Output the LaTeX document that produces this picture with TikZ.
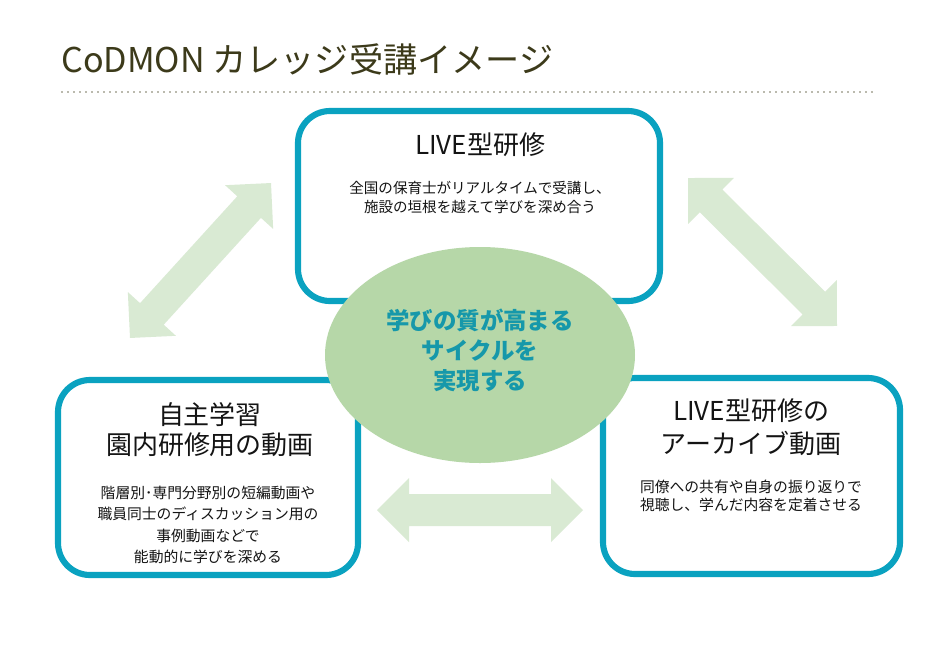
\documentclass[tikz,border=0pt]{standalone}
\usepackage{fontspec}
\setmainfont{Noto Sans CJK JP}
\begin{document}
\begin{tikzpicture}[x=0.75pt,y=-0.75pt,
  boxframe/.style={draw=boxteal,line width=4.6pt,fill=white,rounded corners=24pt},
  arrowfill/.style={fill=arrowgreen},
  titletext/.style={inner sep=0pt,align=center,text=black!92,font=\fontsize{19.5pt}{22.5pt}\selectfont},
  subtext/.style={inner sep=0pt,align=center,text=black!92},
  centertext/.style={inner sep=0pt,align=center,text=centerteal,font=\fontsize{17.6pt}{22.5pt}\selectfont\bfseries}
]
\definecolor{boxteal}{HTML}{0AA2C0}
\definecolor{arrowgreen}{HTML}{D9EAD3}
\definecolor{ellgreen}{HTML}{B6D7A8}
\definecolor{centerteal}{HTML}{1698AA}
\definecolor{titlecol}{HTML}{3C3A1A}
\definecolor{dotcol}{HTML}{77755C}
\useasboundingbox (0,0) rectangle (940,665);
\fill[white] (0,0) rectangle (940,665);

% title
\node[anchor=base west,inner sep=0pt,text=titlecol,font=\fontsize{25.6pt}{28pt}\selectfont] (title) at (61,72) {CoDMON カレッジ受講イメージ};
\coordinate (dotL) at (62,92);
\coordinate (dotR) at (873,92);
\draw[dotcol,line width=1.3pt,line cap=round,dash pattern=on 0pt off 4.5pt] (dotL) -- (dotR);

% double arrows
\begin{scope}[shift={(200.5,260.5)},rotate=47.7]
  \fill[arrowfill] (-104.75,0) -- (-72.25,32.5) -- (-72.25,16) -- (72.25,16) -- (72.25,32.5) -- (104.75,0)
    -- (72.25,-32.5) -- (72.25,-16) -- (-72.25,-16) -- (-72.25,-32.5) -- cycle;
\end{scope}
\begin{scope}[shift={(762.5,252)},rotate=-44.8]
  \fill[arrowfill] (-105,0) -- (-72.5,32.5) -- (-72.5,16) -- (72.5,16) -- (72.5,32.5) -- (105,0)
    -- (72.5,-32.5) -- (72.5,-16) -- (-72.5,-16) -- (-72.5,-32.5) -- cycle;
\end{scope}
\begin{scope}[shift={(480,510)}]
  \fill[arrowfill] (-103,0) -- (-71,32) -- (-71,16) -- (71,16) -- (71,32) -- (103,0)
    -- (71,-32) -- (71,-16) -- (-71,-16) -- (-71,-32) -- cycle;
\end{scope}

% boxes
\draw[boxframe] (298,111) rectangle (660,301);
\draw[boxframe] (58,380) rectangle (358,575);
\draw[boxframe] (603,378) rectangle (900,574);

% centre ellipse
\fill[ellgreen] (480,355) ellipse [x radius=155, y radius=108];

% texts
\node[titletext] (toptitle) at (480,145) {LIVE型研修};
\node[subtext,font=\fontsize{10.9pt}{14.25pt}\selectfont] (topsub) at (480,197) {全国の保育士がリアルタイムで受講し、\\施設の垣根を越えて学びを深め合う};

\node[titletext] (lefttitle) at (210,430) {自主学習\\園内研修用の動画};
\node[subtext,font=\fontsize{11.1pt}{16pt}\selectfont] (leftsub) at (208,525) {階層別･専門分野別の短編動画や\\職員同士のディスカッション用の\\事例動画などで\\能動的に学びを深める};

\node[titletext,font=\fontsize{19.5pt}{24.5pt}\selectfont] (righttitle) at (751,427) {LIVE型研修の\\アーカイブ動画};
\node[subtext,font=\fontsize{11.1pt}{14pt}\selectfont] (rightsub) at (751,496) {同僚への共有や自身の振り返りで\\視聴し、学んだ内容を定着させる};

\node[centertext] (center) at (480,350) {学びの質が高まる\\サイクルを\\実現する};
\end{tikzpicture}
\end{document}
